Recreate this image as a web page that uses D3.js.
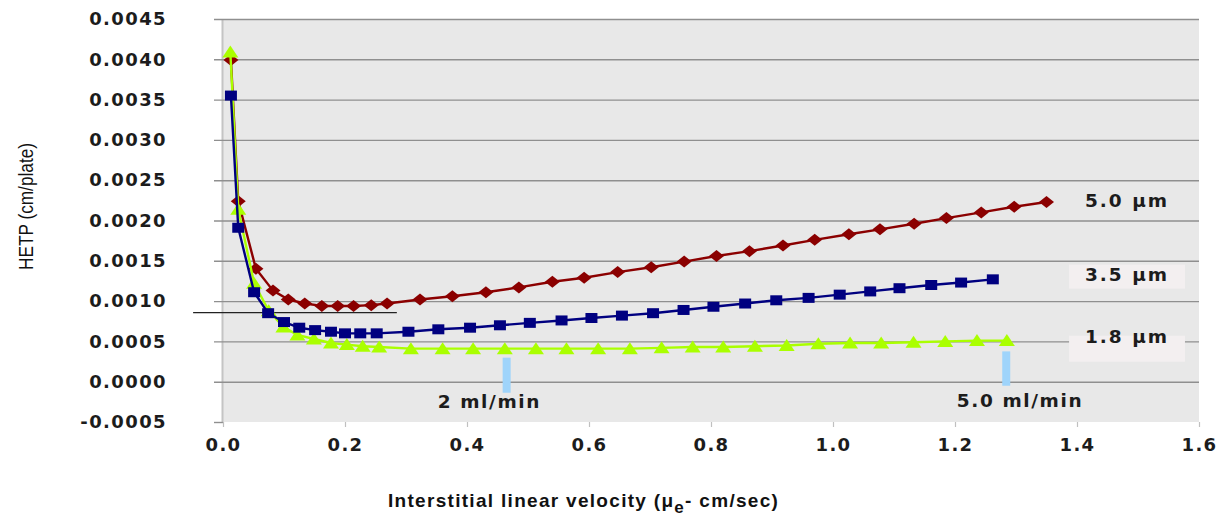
<!DOCTYPE html>
<html>
<head>
<meta charset="utf-8">
<script src="https://cdn.jsdelivr.net/npm/d3@7"></script>
<style>
  html, body { margin: 0; padding: 0; background: #ffffff; }
  svg { display: block; }
</style>
</head>
<body>
<svg id="chart" width="1225" height="517"></svg>
<script>
// ---------------- DATA ----------------
const xTicks = [0.0, 0.2, 0.4, 0.6, 0.8, 1.0, 1.2, 1.4, 1.6];
const yTicks = [-0.0005, 0.0000, 0.0005, 0.0010, 0.0015, 0.0020, 0.0025, 0.0030, 0.0035, 0.0040, 0.0045];

// 5.0 µm particles
const x50 = [0.013, 0.025, 0.054, 0.082, 0.107, 0.134, 0.162, 0.188, 0.214, 0.243, 0.269, 0.323, 0.376, 0.431, 0.485, 0.540, 0.592, 0.647, 0.702, 0.756, 0.809, 0.863, 0.918, 0.970, 1.026, 1.077, 1.133, 1.186, 1.243, 1.297, 1.350];
const y50 = [0.00399, 0.00224, 0.00140, 0.00113, 0.00102, 0.00097, 0.00094, 0.00094, 0.00094, 0.00095, 0.00097, 0.00102, 0.00106, 0.00111, 0.00117, 0.00124, 0.00129, 0.00136, 0.00142, 0.00149, 0.00156, 0.00162, 0.00169, 0.00176, 0.00183, 0.00189, 0.00196, 0.00203, 0.00210, 0.00217, 0.00223];

// 3.5 µm particles
const x35 = [0.013, 0.025, 0.051, 0.074, 0.100, 0.125, 0.151, 0.177, 0.200, 0.225, 0.252, 0.304, 0.353, 0.405, 0.454, 0.503, 0.555, 0.604, 0.654, 0.705, 0.755, 0.804, 0.856, 0.907, 0.960, 1.011, 1.061, 1.109, 1.161, 1.210, 1.262];
const y35 = [0.00355, 0.00191, 0.00111, 0.00085, 0.00074, 0.00067, 0.00064, 0.00062, 0.00060, 0.00060, 0.00060, 0.00062, 0.00065, 0.00067, 0.00070, 0.00073, 0.00076, 0.00079, 0.00082, 0.00085, 0.00089, 0.00093, 0.00097, 0.00101, 0.00104, 0.00108, 0.00112, 0.00116, 0.00120, 0.00123, 0.00127];

// 1.8 µm particles
const x18 = [0.012, 0.025, 0.051, 0.075, 0.099, 0.122, 0.149, 0.177, 0.203, 0.229, 0.256, 0.308, 0.360, 0.410, 0.462, 0.513, 0.563, 0.615, 0.667, 0.719, 0.770, 0.820, 0.872, 0.924, 0.976, 1.028, 1.079, 1.132, 1.184, 1.236, 1.285];
const y18 = [0.00409, 0.00214, 0.00122, 0.00088, 0.00068, 0.00058, 0.00053, 0.00048, 0.00046, 0.00044, 0.00043, 0.00041, 0.00041, 0.00041, 0.00041, 0.00041, 0.00041, 0.00041, 0.00041, 0.00042, 0.00043, 0.00043, 0.00044, 0.00045, 0.00047, 0.00048, 0.00048, 0.00049, 0.00050, 0.00051, 0.00051];

const seriesNames = ["5.0 µm", "3.5 µm", "1.8 µm"];

// annotation anchors (data coordinates)
const labelX = [1.413, 1.413, 1.413];
const labelY = [0.00217, 0.001255, 0.000481];
const flowMarkX = [0.465, 1.284];
const flowMarkTop = [0.000298, 0.000376];
const flowMarkBottom = [-0.000137, -0.00005];
const flowText = ["2 ml/min", "5.0 ml/min"];
const flowTextX = [0.352, 1.203];
const flowTextY = [-0.000327, -0.000311];
const refLineX = [-0.049, 0.285];
const refLineY = 0.000857;

// ---------------- CHART ----------------
const svg = d3.select("#chart");
const x = d3.scaleLinear().domain([0, 1.6]).range([223, 1199]);
const y = d3.scaleLinear().domain([-0.0005, 0.0045]).range([422, 19]);

const boldFont = "'DejaVu Sans', Verdana, sans-serif";

// plot background
svg.append("rect")
  .attr("x", x(0) - 1).attr("y", y(0.0045))
  .attr("width", x(1.6) - x(0) + 1).attr("height", y(-0.0005) - y(0.0045))
  .attr("fill", "#e8e8e8");

// left axis line
svg.append("line")
  .attr("x1", x(0) - 0.5).attr("x2", x(0) - 0.5)
  .attr("y1", y(0.0045)).attr("y2", y(-0.0005))
  .attr("stroke", "#c4c4c4").attr("stroke-width", 2);

// y axis + gridlines
const yAxis = svg.append("g")
  .attr("transform", `translate(${x(0)},0)`)
  .call(d3.axisLeft(y).tickValues(yTicks).tickFormat(d3.format(".4f"))
    .tickSizeInner(9).tickSizeOuter(0).tickPadding(47));
yAxis.select(".domain").remove();
yAxis.selectAll(".tick line")
  .attr("x1", -9)
  .attr("x2", d => d === -0.0005 ? 0 : x(1.6) - x(0))
  .attr("stroke", "#8f8f8f").attr("stroke-width", 1.4);
yAxis.selectAll(".tick text")
  .attr("font-family", boldFont).attr("font-weight", "bold")
  .attr("font-size", 18).attr("letter-spacing", 1.4).attr("fill", "#1c1c1c")
  .text(d => d < 0 ? "-" + d3.format(".4f")(-d) : d3.format(".4f")(d));

// x axis
const xAxis = svg.append("g")
  .attr("transform", `translate(0,${y(-0.0005)})`)
  .call(d3.axisBottom(x).tickValues(xTicks).tickFormat(d3.format(".1f"))
    .tickSizeInner(5).tickSizeOuter(0).tickPadding(11));
xAxis.select(".domain").remove();
xAxis.selectAll(".tick line").attr("stroke", "#c0c0c0").attr("stroke-width", 1.2);
xAxis.selectAll(".tick text")
  .attr("font-family", boldFont).attr("font-weight", "bold")
  .attr("font-size", 18).attr("letter-spacing", 1.4).attr("fill", "#1c1c1c");

// stray reference line
svg.append("line")
  .attr("x1", x(refLineX[0])).attr("x2", x(refLineX[1]))
  .attr("y1", y(refLineY)).attr("y2", y(refLineY))
  .attr("stroke", "#222").attr("stroke-width", 1.2);

// series
const series = [
  { name: seriesNames[0], xs: x50, ys: y50, color: "#8b0000", width: 2.4, shape: "diamond" },
  { name: seriesNames[2], xs: x18, ys: y18, color: "#aaff00", width: 2.4, shape: "triangle" },
  { name: seriesNames[1], xs: x35, ys: y35, color: "#000080", width: 2.4, shape: "square" }
];

const line = d3.line().x(d => x(d[0])).y(d => y(d[1]));
const markerPath = {
  diamond: "M0,-6 L7.5,0 L0,6 L-7.5,0 Z",
  square: "M-6,-5 L6,-5 L6,5 L-6,5 Z",
  triangle: "M0,-6.5 L8,5.5 L-8,5.5 Z"
};

series.forEach(s => {
  const pts = s.xs.map((v, i) => [v, s.ys[i]]);
  svg.append("path").datum(pts)
    .attr("d", line).attr("fill", "none")
    .attr("stroke", s.color).attr("stroke-width", s.width)
    .attr("stroke-linejoin", "round");
  svg.append("g").selectAll("path").data(pts).join("path")
    .attr("transform", d => `translate(${x(d[0])},${y(d[1])})`)
    .attr("d", markerPath[s.shape])
    .attr("fill", s.color);
});

// label boxes for 3.5 and 1.8
const boxX = [1.387, 1.577];
const boxTop = [0.001453, 0.000571];
const boxBottom = [0.001155, 0.000248];
boxTop.forEach((t, i) => {
  svg.append("rect")
    .attr("x", x(boxX[0])).attr("width", x(boxX[1]) - x(boxX[0]))
    .attr("y", y(t)).attr("height", y(boxBottom[i]) - y(t))
    .attr("fill", "#f3eff0");
});

// series labels
seriesNames.forEach((n, i) => {
  svg.append("text")
    .attr("x", x(labelX[i])).attr("y", y(labelY[i]))
    .attr("font-family", boldFont).attr("font-weight", "bold")
    .attr("font-size", 18.5).attr("letter-spacing", 2).attr("fill", "#1c1c1c")
    .text(n);
});

// flow-rate markers
flowMarkX.forEach((fx, i) => {
  svg.append("rect")
    .attr("x", x(fx) - 4).attr("width", 8)
    .attr("y", y(flowMarkTop[i])).attr("height", y(flowMarkBottom[i]) - y(flowMarkTop[i]))
    .attr("fill", "#9fd4fb");
  svg.append("text")
    .attr("x", x(flowTextX[i])).attr("y", y(flowTextY[i]))
    .attr("font-family", boldFont).attr("font-weight", "bold")
    .attr("font-size", 18.5).attr("letter-spacing", 1.6).attr("fill", "#1c1c1c")
    .text(flowText[i]);
});

// axis titles
svg.append("text")
  .attr("transform", "translate(33,206.5) rotate(-90)")
  .attr("text-anchor", "middle")
  .attr("font-family", "'Liberation Sans Narrow', 'Liberation Sans', Arial, sans-serif")
  .attr("font-size", 21)
  .attr("textLength", 127).attr("lengthAdjust", "spacingAndGlyphs")
  .attr("fill", "#111")
  .text("HETP (cm/plate)");

const xt = svg.append("text")
  .attr("x", 388).attr("y", 507)
  .attr("font-family", "'Liberation Sans', Arial, sans-serif")
  .attr("font-weight", "bold").attr("font-size", 19)
  .attr("letter-spacing", 1.3).attr("fill", "#111");
xt.append("tspan").text("Interstitial linear velocity (μ");
xt.append("tspan").attr("dy", 6).attr("font-size", 17).text("e");
xt.append("tspan").attr("dy", -6).text("- cm/sec)");
</script>
</body>
</html>
